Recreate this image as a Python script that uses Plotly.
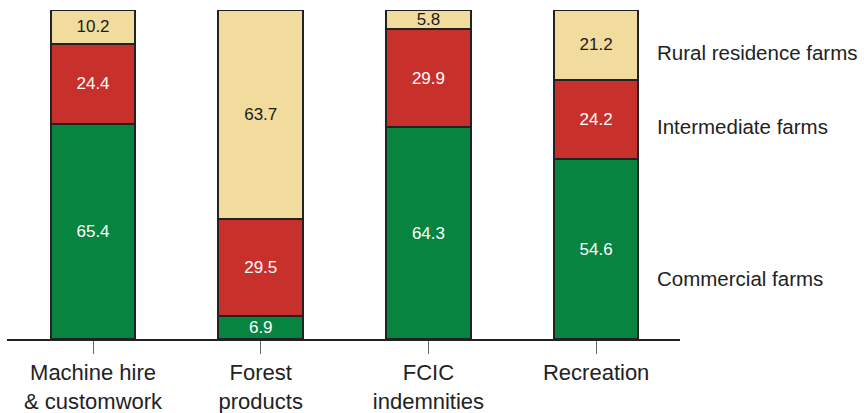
import plotly.graph_objects as go

categories = ["Machine hire<br>& customwork", "Forest<br>products", "FCIC<br>indemnities", "Recreation"]
commercial = [65.4, 6.9, 64.3, 54.6]
intermediate = [24.4, 29.5, 29.9, 24.2]
rural = [10.2, 63.7, 5.8, 21.2]

series = [
    ("Commercial farms", commercial, "#07843F", "white"),
    ("Intermediate farms", intermediate, "#C8302C", "white"),
    ("Rural residence farms", rural, "#F2DC9D", "#1a1a1a"),
]

FONT = "Liberation Sans, Arial, Helvetica, sans-serif"

fig = go.Figure()
for name, vals, color, tcolor in series:
    fig.add_trace(go.Bar(
        x=list(range(len(categories))),
        y=vals,
        name=name,
        marker=dict(color=color, line=dict(color="#222222", width=2)),
        width=0.505,
        text=[f"{v:.1f}" for v in vals],
        textposition="inside",
        insidetextanchor="middle",
        textangle=0,
        textfont=dict(family=FONT, size=17, color=tcolor),
        hoverinfo="skip",
    ))

# Series names placed to the right of the last bar
label_pos = {"Rural residence farms": 87.2, "Intermediate farms": 64.7, "Commercial farms": 18.5}
for name, yv in label_pos.items():
    fig.add_annotation(
        x=0.963, xref="paper", y=yv, yref="y",
        text=name, showarrow=False, xanchor="left", yanchor="middle",
        font=dict(family=FONT, size=20.5, color="#222222"),
    )

fig.update_layout(
    barmode="stack",
    width=864, height=413,
    margin=dict(l=7, r=184, t=10, b=74),
    paper_bgcolor="white", plot_bgcolor="white",
    showlegend=False,
    uniformtext=dict(minsize=17, mode="show"),
    xaxis=dict(
        range=[-0.513, 3.5],
        automargin=False,
        tickmode="array",
        tickvals=list(range(len(categories))),
        ticktext=categories,
        ticks="outside", ticklen=13, tickwidth=1, tickcolor="#666666",
        showline=True, linecolor="#222222", linewidth=2,
        showgrid=False, zeroline=False,
        tickfont=dict(family=FONT, size=22, color="#222222"),
    ),
    yaxis=dict(
        range=[0, 100],
        automargin=False,
        visible=False, showgrid=False, zeroline=False,
    ),
)

fig.write_html("out.html")
